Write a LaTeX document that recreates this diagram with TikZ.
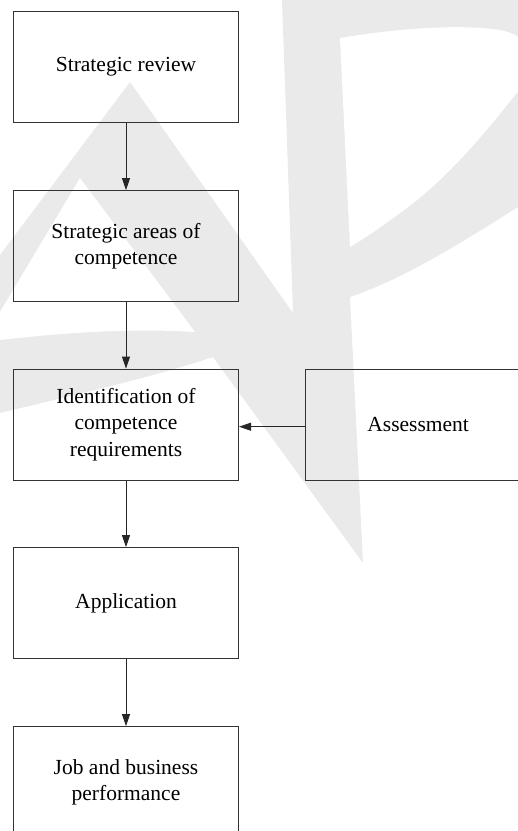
\documentclass[tikz,border=0pt]{standalone}
\usepackage{fontspec}
\setmainfont{Liberation Serif}
\usetikzlibrary{arrows.meta}
\definecolor{logogray}{RGB}{234,234,234}
\begin{document}
\begin{tikzpicture}[x=1pt,y=-1pt,
  stage/.style={draw=black!80, line width=1pt, minimum width=225pt,
    minimum height=111.3pt, inner sep=0pt, align=center,
    font=\fontsize{21.5}{26.7}\selectfont},
  flow/.style={draw=black!85, line width=0.9pt,
    -{Triangle[length=12pt,width=8pt]}}]
\useasboundingbox (0,0) rectangle (518,831);
\clip (0,0) rectangle (518,831);

% light background logo
\fill[logogray] (0,255) -- (130,82) -- (293,313) -- (282,0) -- (518,0) -- (518,207)
  .. controls (450,250) and (400,280) .. (350,297) -- (363,563) -- (213,357)
  .. controls (150,378) and (70,396) .. (0,413) -- cycle;
\fill[white] (80,178) -- (0,312) -- (0,340)
  .. controls (60,333) and (130,328) .. (195,332) -- cycle;
\fill[white] (340,38) .. controls (400,28) and (460,24) .. (500,30)
  .. controls (540,38) and (540,70) .. (515,95)
  .. controls (480,140) and (440,185) .. (400,213)
  .. controls (380,228) and (365,238) .. (350,247) -- cycle;

% process boxes
\node[stage] (review) at (126,67) {Strategic review};
\node[stage] (areas)  at (126,246.3) {Strategic areas of\\competence};
\node[stage] (ident)  at (126,424.7) {Identification of\\competence\\requirements};
\node[stage] (apply)  at (126,603.3) {Application};
\node[stage] (perf)   at (126,782.3) {Job and business\\performance};
\node[stage] (assess) at (418.2,424.7) {Assessment};

% connectors
\draw[flow] (review) -- (areas);
\draw[flow] (areas) -- (ident);
\draw[flow] (ident) -- (apply);
\draw[flow] (apply) -- (perf);
\draw[flow] (assess.west |- 0,426.7) -- (ident.east |- 0,426.7);
\end{tikzpicture}
\end{document}
